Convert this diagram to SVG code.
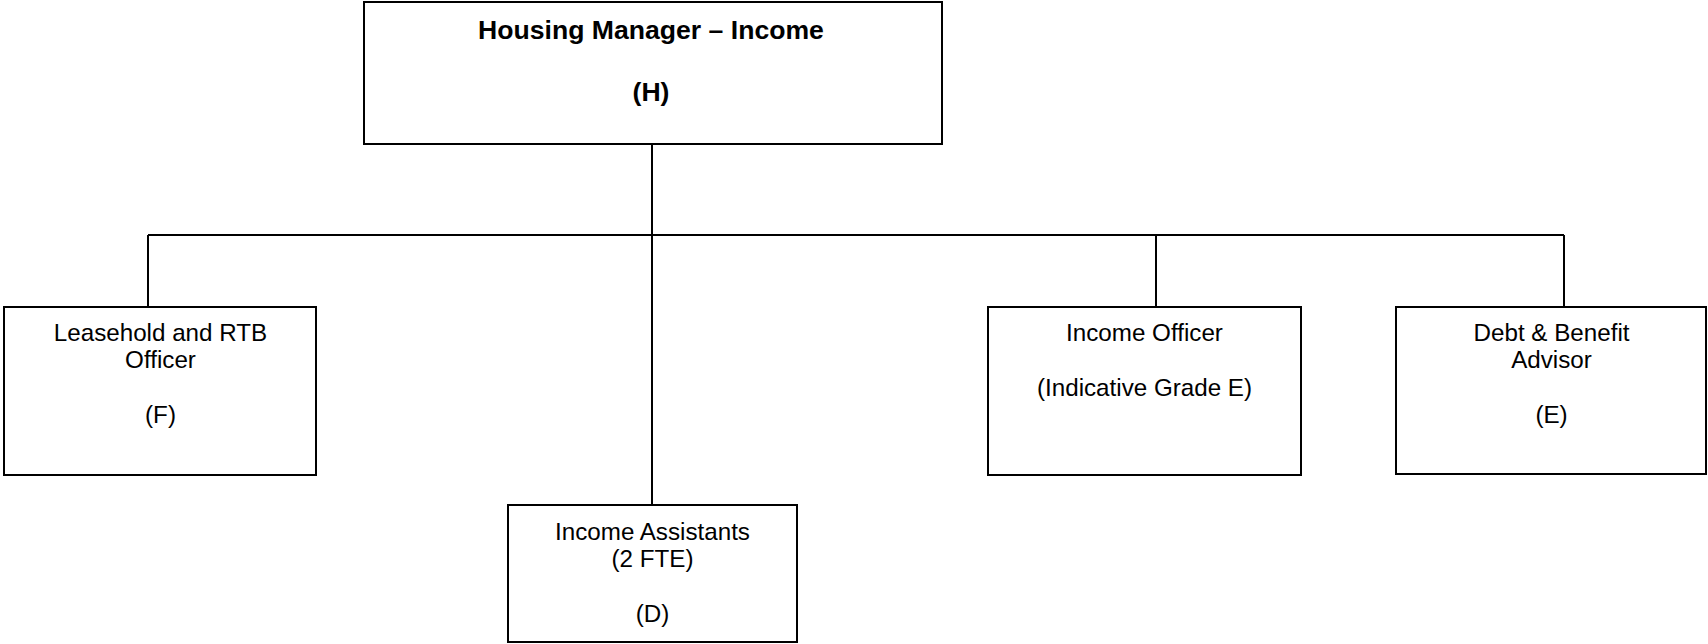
<svg xmlns="http://www.w3.org/2000/svg" width="1708" height="644" viewBox="0 0 1708 644">
  <style>
    .box { fill: #ffffff; stroke: #000000; stroke-width: 2; }
    .conn { fill: none; stroke: #000000; stroke-width: 2; }
    .t { font-family: "Liberation Sans", Arial, Helvetica, sans-serif; font-size: 24.2px; fill: #000000; text-anchor: middle; }
    .tb { font-family: "Liberation Sans", Arial, Helvetica, sans-serif; font-size: 26.6px; font-weight: bold; fill: #000000; text-anchor: middle; }
  </style>
  <rect width="1708" height="644" fill="#ffffff"/>
  <g id="connectors">
    <line class="conn" x1="652" y1="144" x2="652" y2="505"/>
    <line class="conn" x1="148" y1="235" x2="1564" y2="235"/>
    <line class="conn" x1="148" y1="235" x2="148" y2="307"/>
    <line class="conn" x1="1156" y1="235" x2="1156" y2="307"/>
    <line class="conn" x1="1564" y1="235" x2="1564" y2="307"/>
  </g>
  <g id="housing-manager">
    <rect class="box" x="364" y="2" width="578" height="142"/>
    <text class="tb" x="651" y="39">Housing Manager – Income</text>
    <text class="tb" x="651" y="101">(H)</text>
  </g>
  <g id="leasehold-officer">
    <rect class="box" x="4" y="307" width="312" height="168"/>
    <text class="t" x="160.5" y="340.5">Leasehold and RTB</text>
    <text class="t" x="160.5" y="368">Officer</text>
    <text class="t" x="160.5" y="423">(F)</text>
  </g>
  <g id="income-assistants">
    <rect class="box" x="508" y="505" width="289" height="137"/>
    <text class="t" x="652.5" y="539.5">Income Assistants</text>
    <text class="t" x="652.5" y="567">(2 FTE)</text>
    <text class="t" x="652.5" y="622">(D)</text>
  </g>
  <g id="income-officer">
    <rect class="box" x="988" y="307" width="313" height="168"/>
    <text class="t" x="1144.5" y="340.5">Income Officer</text>
    <text class="t" x="1144.5" y="395.5">(Indicative Grade E)</text>
  </g>
  <g id="debt-benefit-advisor">
    <rect class="box" x="1396" y="307" width="310" height="167"/>
    <text class="t" x="1551.5" y="340.5">Debt &amp; Benefit</text>
    <text class="t" x="1551.5" y="368">Advisor</text>
    <text class="t" x="1551.5" y="423">(E)</text>
  </g>
</svg>
